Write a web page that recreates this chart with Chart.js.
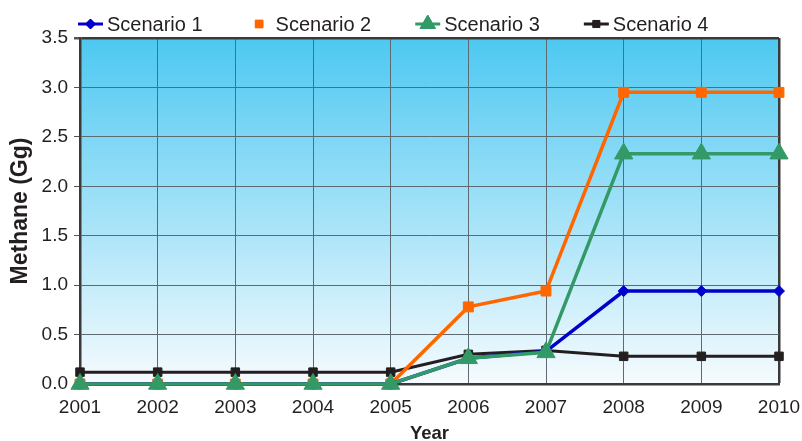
<!DOCTYPE html>
<html><head><meta charset="utf-8">
<script src="https://cdn.jsdelivr.net/npm/chart.js@4.4.1/dist/chart.umd.min.js"></script>
<style>html,body{margin:0;padding:0;background:#fff;}#wrap{width:802px;height:441px;position:relative;}</style>
</head><body><div id="wrap"><canvas id="c" width="802" height="441"></canvas></div>
<script>
const years = ['2001','2002','2003','2004','2005','2006','2007','2008','2009','2010'];
const scenario1 = [0,0,0,0,0,0.26,0.33,0.94,0.94,0.94];
const scenario2 = [0,0,0,0,0,0.78,0.94,2.95,2.95,2.95];
const scenario3 = [0,0,0,0,0,0.26,0.32,2.33,2.33,2.33];
const scenario4 = [0.12,0.12,0.12,0.12,0.12,0.30,0.34,0.28,0.28,0.28];
const seriesNames = ['Scenario 1','Scenario 2','Scenario 3','Scenario 4'];
const yTicks = [0,0.5,1.0,1.5,2.0,2.5,3.0,3.5];

const FONT = "'Liberation Sans', Arial, sans-serif";
const TXT = '#231f20';
Chart.defaults.font.family = FONT;
Chart.defaults.color = TXT;

const styles = [
  {color:'#0000cc', point:'rectRot', r:5.5, w:3.5, order:1, legendLine:true},
  {color:'#ff6600', point:'rect', r:7, w:3.5, order:2, legendLine:false},
  {color:'#339966', point:'triangle', r:10.5, w:3.5, order:0, legendLine:true},
  {color:'#231f20', point:'rect', r:6, w:3, order:3, legendLine:true}
];
const seriesData = [scenario1, scenario2, scenario3, scenario4];

const bgPlugin = {
  id:'bg',
  beforeDraw(chart){
    const {ctx, chartArea:a} = chart;
    const g = ctx.createLinearGradient(0, a.top, 0, a.bottom);
    g.addColorStop(0, 'rgb(77,200,241)');
    g.addColorStop(1, 'rgb(246,251,254)');
    ctx.save(); ctx.fillStyle = g; ctx.fillRect(a.left, a.top, a.right-a.left, a.bottom-a.top); ctx.restore();
  }
};

function drawMarker(ctx, st, x, y, r){
  ctx.save();
  ctx.fillStyle = st.color; ctx.strokeStyle = st.color; ctx.lineWidth = 1;
  Chart.helpers.drawPoint(ctx, {pointStyle: st.point, radius: r, borderWidth: 1}, x, y);
  ctx.fill();
  ctx.restore();
}

const legendPlugin = {
  id:'customLegend',
  afterDraw(chart){
    const ctx = chart.ctx;
    ctx.save();
    ctx.font = '20px ' + FONT;
    ctx.textBaseline = 'middle';
    ctx.textAlign = 'left';
    let x = 78; const y = 24;
    seriesNames.forEach((name, i) => {
      const st = styles[i];
      if (st.legendLine){
        ctx.strokeStyle = st.color; ctx.lineWidth = 3;
        ctx.beginPath(); ctx.moveTo(x, y); ctx.lineTo(x+25, y); ctx.stroke();
      }
      const mr = st.point === 'triangle' ? 9 : (i===1 ? 5.5 : 5);
      drawMarker(ctx, st, x+12.5, y, mr);
      ctx.fillStyle = TXT;
      ctx.fillText(name, x+29, y+1);
      x += 29 + ctx.measureText(name).width + 44;
    });
    ctx.restore();
  }
};

const datasets = seriesNames.map((name, i) => ({
  label: name,
  data: seriesData[i],
  borderColor: styles[i].color,
  backgroundColor: styles[i].color,
  borderWidth: styles[i].w,
  pointStyle: styles[i].point,
  pointRadius: styles[i].r,
  pointBorderWidth: 1,
  pointBackgroundColor: styles[i].color,
  pointBorderColor: styles[i].color,
  order: styles[i].order,
  tension: 0,
  clip: false,
  fill: false
}));

new Chart(document.getElementById('c'), {
  type:'line',
  data:{labels: years, datasets},
  options:{
    responsive:false,
    animation:false,
    devicePixelRatio:1,
    layout:{padding:{top:38, right:23, left:0, bottom:0}},
    plugins:{legend:{display:false}, tooltip:{enabled:false}},
    scales:{
      x:{
        type:'category',
        offset:false,
        afterFit(s){ s.height = 57; s.paddingRight = 0; s.paddingLeft = 0; },
        grid:{
          color: c => (c.index === years.length-1 ? '#3a3a3a' : '#5e6a72'),
          lineWidth: c => (c.index === years.length-1 ? 2.5 : 1),
          drawTicks:false
        },
        border:{color:'#3a3a3a', width:2.5},
        ticks:{font:{size:19}, color:TXT, padding:12, maxRotation:0, autoSkip:false},
        title:{display:true, text:'Year', font:{size:18.5, weight:'bold'}, color:TXT, padding:{top:0,bottom:-4}}
      },
      y:{
        type:'linear',
        min:0, max:3.5,
        afterFit(s){ s.width = 80; s.paddingTop = 0; s.paddingBottom = 0; },
        afterBuildTicks(s){ s.ticks = yTicks.map(v => ({value:v})); },
        grid:{
          color: c => (c.tick && c.tick.value === 3.5 ? '#3a3a3a' : '#5e6a72'),
          lineWidth: c => (c.tick && c.tick.value === 3.5 ? 2.5 : 1),
          tickLength:6,
          tickColor:'#555'
        },
        border:{color:'#3a3a3a', width:2.5},
        ticks:{font:{size:19}, color:TXT, padding:6, callback: v => Number(v).toFixed(1)},
        title:{display:true, text:'Methane (Gg)', font:{size:23, weight:'bold'}, color:TXT, padding:{top:7,bottom:0}}
      }
    }
  },
  plugins:[bgPlugin, legendPlugin]
});
</script></body></html>
